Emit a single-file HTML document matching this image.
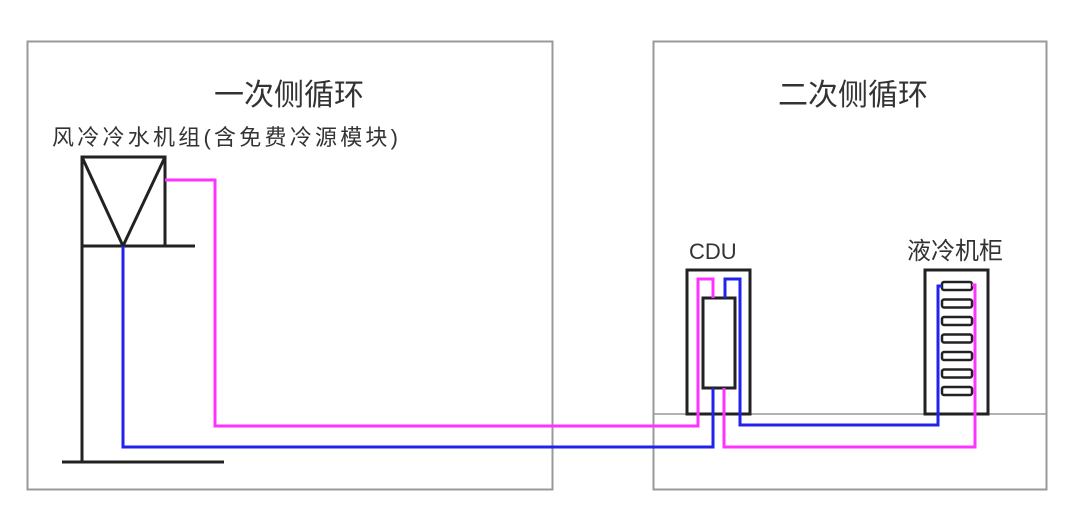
<!DOCTYPE html>
<html><head><meta charset="utf-8"><style>
html,body{margin:0;padding:0;background:#fff;}
svg{display:block;}
text{font-family:"Liberation Sans","Noto Sans CJK SC",sans-serif;fill:#333;}
</style></head><body>
<svg width="1080" height="517" viewBox="0 0 1080 517" xmlns="http://www.w3.org/2000/svg">
<rect width="1080" height="517" fill="#fff"/>
<rect x="27.5" y="41.5" width="525" height="448" fill="none" stroke="#999" stroke-width="2"/>
<rect x="653.5" y="41.5" width="393" height="448" fill="none" stroke="#999" stroke-width="2"/>
<line x1="654" y1="414" x2="1046" y2="414" stroke="#999" stroke-width="1.5"/>
<text x="289" y="105" font-size="30" text-anchor="middle">一次侧循环</text>
<text x="853" y="105" font-size="30" text-anchor="middle">二次侧循环</text>
<text x="52" y="145" font-size="22" textLength="346" lengthAdjust="spacing">风冷冷水机组(含免费冷源模块)</text>
<text x="689" y="259" font-size="22">CDU</text>
<text x="907" y="259" font-size="24">液冷机柜</text>
<g stroke="#222" stroke-width="3" fill="none">
<rect x="82" y="157" width="83" height="89"/>
<line x1="82" y1="246" x2="195" y2="246"/>
<line x1="82" y1="157" x2="123" y2="246"/>
<line x1="165" y1="157" x2="123" y2="246"/>
<line x1="82" y1="246" x2="82" y2="462"/>
<line x1="62" y1="462" x2="224" y2="462"/>
<rect x="687" y="270" width="63" height="144"/>
<rect x="703" y="298" width="32" height="90"/>
<rect x="925" y="270" width="63" height="144"/>
</g>
<g stroke="#222" stroke-width="2.5" fill="#fff">
<rect x="942" y="282" width="30" height="8" rx="2"/>
<rect x="942" y="299.5" width="30" height="8" rx="2"/>
<rect x="942" y="317" width="30" height="8" rx="2"/>
<rect x="942" y="334.5" width="30" height="8" rx="2"/>
<rect x="942" y="352" width="30" height="8" rx="2"/>
<rect x="942" y="369.5" width="30" height="8" rx="2"/>
<rect x="942" y="387" width="30" height="8" rx="2"/>
</g>
<g fill="none" stroke-width="3">
<polyline stroke="#ff33ff" points="165,180 215,180 215,426 698,426 698,279 713,279 713,298"/>
<polyline stroke="#2222ee" points="123,246 123,447 713,447 713,388"/>
<polyline stroke="#2222ee" points="725,298 725,279 740,279 740,425 938,425 938,286 942,286"/>
<polyline stroke="#ff33ff" points="724,388 724,447 975,447 975,285 972,285"/>
</g>
</svg>
</body></html>
